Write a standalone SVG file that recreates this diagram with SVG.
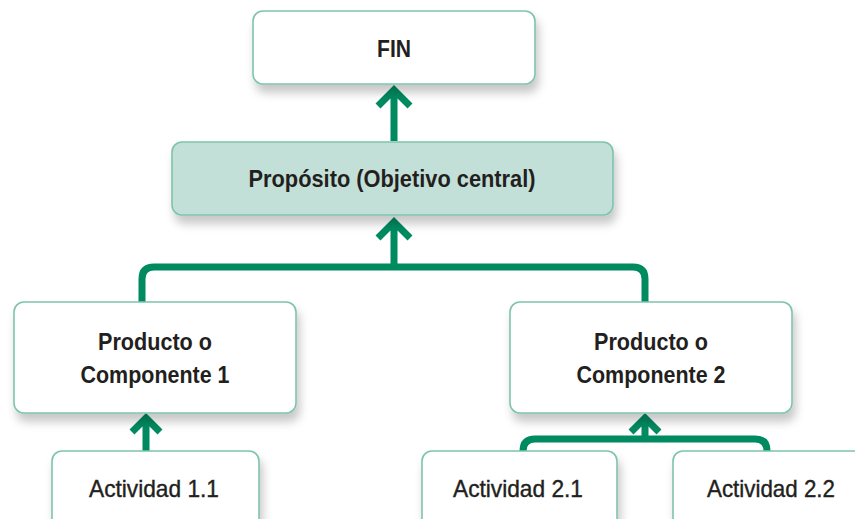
<svg xmlns="http://www.w3.org/2000/svg" width="855" height="519" viewBox="0 0 855 519">
<defs>
<filter id="sh" x="-10%" y="-20%" width="130%" height="160%">
<feDropShadow dx="3" dy="8" stdDeviation="5" flood-color="#000" flood-opacity="0.22"/>
</filter>
<style>
.box{fill:#ffffff;stroke:#7ec4ad;stroke-width:1.6;filter:url(#sh)}
.boxg{fill:#c3e0d8;stroke:#7ec4ad;stroke-width:1.6;filter:url(#sh)}
.t{font-family:"Liberation Sans",Arial,sans-serif;fill:#231f20;text-anchor:middle}
.b{font-weight:bold;font-size:24px}
.n{font-size:24px;stroke:#231f20;stroke-width:0.4}
.c{fill:none;stroke:#008a60;stroke-width:7;stroke-linejoin:miter}
</style>
</defs>
<rect width="855" height="519" fill="#ffffff"/>
<g id="connectors">
<path class="c" d="M394 141 V90 M378 106 L394 90 L410 106"/>
<path class="c" d="M142 302 V279 Q142 267 154 267 H633 Q645 267 645 279 V302 M394 267 V222 M378 238 L394 222 L410 238"/>
<path class="c" d="M146 451 V418 M132 432 L146 418 L160 432"/>
<path class="c" d="M523 451 V451 Q523 439 535 439 H755 Q767 439 767 451 M645 439 V418 M631 432 L645 418 L659 432"/>
</g>
<g id="fin">
<rect class="box" x="253" y="11" width="282" height="73" rx="10"/>
<text class="t b" x="394" y="57" textLength="34" lengthAdjust="spacingAndGlyphs">FIN</text>
</g>
<g id="proposito">
<rect class="boxg" x="172" y="142" width="441" height="73" rx="10"/>
<text class="t b" x="392" y="187" textLength="287" lengthAdjust="spacingAndGlyphs">Propósito (Objetivo central)</text>
</g>
<g id="producto1">
<rect class="box" x="14" y="302" width="282" height="111" rx="10"/>
<text class="t b" x="155" y="350" textLength="114" lengthAdjust="spacingAndGlyphs">Producto o</text>
<text class="t b" x="155" y="383" textLength="149" lengthAdjust="spacingAndGlyphs">Componente 1</text>
</g>
<g id="producto2">
<rect class="box" x="510" y="302" width="282" height="111" rx="10"/>
<text class="t b" x="651" y="350" textLength="114" lengthAdjust="spacingAndGlyphs">Producto o</text>
<text class="t b" x="651" y="383" textLength="149" lengthAdjust="spacingAndGlyphs">Componente 2</text>
</g>
<g id="actividad11">
<rect class="box" x="52" y="451" width="207" height="90" rx="10"/>
<text class="t n" x="154" y="497" textLength="130" lengthAdjust="spacingAndGlyphs">Actividad 1.1</text>
</g>
<g id="actividad21">
<rect class="box" x="422" y="451" width="195" height="90" rx="10"/>
<text class="t n" x="518" y="497" textLength="130" lengthAdjust="spacingAndGlyphs">Actividad 2.1</text>
</g>
<g id="actividad22">
<rect class="box" x="673" y="451" width="196" height="90" rx="10"/>
<text class="t n" x="771" y="497" textLength="128" lengthAdjust="spacingAndGlyphs">Actividad 2.2</text>
</g>
</svg>
